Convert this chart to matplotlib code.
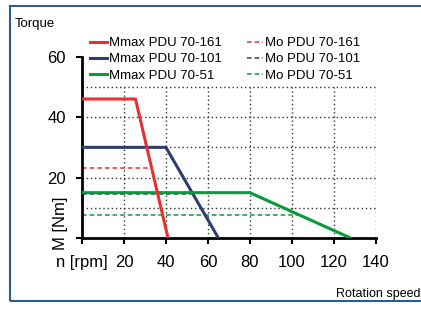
import matplotlib
matplotlib.use("Agg")
import matplotlib.pyplot as plt
from matplotlib.patches import Rectangle

# Mmax curves (speed rpm, torque Nm)
speed_max_161 = [0, 25.5, 41]
torque_max_161 = [46, 46, 0]
speed_max_101 = [0, 40, 65]
torque_max_101 = [30, 30, 0]
speed_max_51 = [0, 80, 128]
torque_max_51 = [15, 15, 0]

# Mo (continuous torque) levels
speed_mo_161 = [0, 33]
torque_mo_161 = [23, 23]
speed_mo_101 = [0, 52]
torque_mo_101 = [14.5, 14.5]
speed_mo_51 = [0, 103]
torque_mo_51 = [7.5, 7.5]

x_ticks = [0, 20, 40, 60, 80, 100, 120, 140]
x_labels = ["n [rpm]", "20", "40", "60", "80", "100", "120", "140"]
y_ticks = [0, 20, 40, 60]
y_labels = ["", "20", "40", "60"]

RED = "#e8312f"
BLUE = "#2e3f6e"
GREEN = "#0a9a3c"

plt.rcParams["font.family"] = ["Liberation Sans", "DejaVu Sans"]

fig = plt.figure(figsize=(4.21, 3.09), dpi=100)
ax = fig.add_axes([0.1948, 0.2298, 0.6976, 0.5867])

# dotted grid
grid_kw = dict(colors="#333333", linestyles=(0, (1, 2)), linewidth=1, zorder=1)
ax.hlines([10, 20, 30, 40, 50], 0, 140, **grid_kw)
ax.vlines(x_ticks[1:], 0, 50, **grid_kw)

dash = (0, (3, 2))
l4, = ax.plot(speed_mo_161, torque_mo_161, color=RED, lw=1.1, ls=dash, zorder=2)
l5, = ax.plot(speed_mo_101, torque_mo_101, color=BLUE, lw=1.1, ls=dash, zorder=2)
l6, = ax.plot(speed_mo_51, torque_mo_51, color=GREEN, lw=1.1, ls=dash, zorder=2)
l1, = ax.plot(speed_max_161, torque_max_161, color=RED, lw=2.2, zorder=4)
l2, = ax.plot(speed_max_101, torque_max_101, color=BLUE, lw=2.2, zorder=3)
l3, = ax.plot(speed_max_51, torque_max_51, color=GREEN, lw=2.2, zorder=3.5)

ax.set_xlim(0, 140)
ax.set_ylim(0, 60)
ax.set_xticks(x_ticks)
ax.set_xticklabels(x_labels)
ax.set_yticks(y_ticks)
ax.set_yticklabels(y_labels)
ax.tick_params(axis="both", direction="out", length=4, width=1.5, labelsize=12)
ax.tick_params(axis="x", pad=8)
ax.tick_params(axis="y", pad=7.5)
for s in ["top", "right"]:
    ax.spines[s].set_visible(False)
for s in ["left", "bottom"]:
    ax.spines[s].set_linewidth(2)
ax.patch.set_alpha(0)

ax.text(-6.5, 5, "M [Nm]", rotation=90, ha="right", va="center", fontsize=12)

fig.legend(
    [l1, l2, l3, l4, l5, l6],
    ["Mmax PDU 70-161", "Mmax PDU 70-101", "Mmax PDU 70-51",
     "Mo PDU 70-161", "Mo PDU 70-101", "Mo PDU 70-51"],
    ncol=2, loc="upper left", bbox_to_anchor=(90 / 421, 1 - 37 / 309),
    frameon=False, borderpad=0, borderaxespad=0, fontsize=9.5,
    handlelength=1.26, handletextpad=0.15, labelspacing=0.3, columnspacing=1.9,
)

fig.text(15 / 421, 1 - 27 / 309, "Torque", fontsize=9.5)
fig.text(421 / 421, 1 - 297 / 309, "Rotation speed", fontsize=9, ha="right")

fig.add_artist(Rectangle((9.5 / 421, 8.5 / 309), 1.0, (300.5 - 6) / 309,
                         transform=fig.transFigure, fill=False,
                         ec="#2f5d8a", lw=1.5, clip_on=False))

fig.savefig("out.png", dpi=100, facecolor="white")
